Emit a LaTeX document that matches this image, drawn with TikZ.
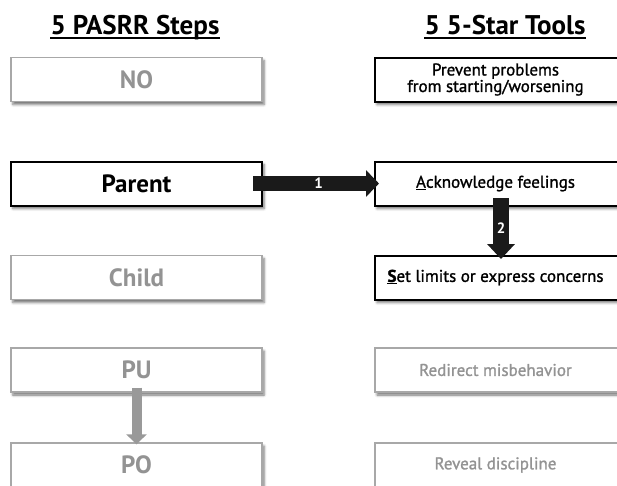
\documentclass[tikz,border=0pt]{standalone}
\usepackage{fontspec}
\setmainfont{PT Sans}
\usetikzlibrary{arrows.meta,shadows.blur}

\definecolor{dimtext}{HTML}{939393}
\definecolor{dimline}{HTML}{A8A8A8}
\definecolor{arrowfill}{HTML}{1A1A1A}
\definecolor{dimarrow}{HTML}{999999}

\begin{document}
\begin{tikzpicture}[x=1pt,y=-1pt,
  box/.style={fill=white, minimum width=251pt, minimum height=44pt, inner sep=0pt,
    blur shadow={shadow xshift=2pt, shadow yshift=-3pt, shadow blur radius=2.5pt, shadow opacity=55}},
  active/.style={box, draw=black, line width=2pt, text=black},
  idle/.style={box, draw=dimline, line width=1.4pt, text=dimtext},
  stepfont/.style={font=\fontsize{25}{30}\selectfont\bfseries},
  tooltext/.style={font=\fontsize{17}{16.5}\selectfont\addfontfeatures{FakeBold=1.2},
    align=center, xshift=-5pt, inner sep=0pt},
  heading/.style={font=\fontsize{27}{32}\selectfont\bfseries, anchor=base, inner sep=0pt},
  rule/.style={line width=1.4pt},
  blockarrow/.style={draw=arrowfill, line width=15pt, -{Triangle[length=13pt,width=26pt]}},
  dimblockarrow/.style={draw=dimarrow, line width=10pt, -{Triangle[length=10pt,width=20pt]}},
  numlabel/.style={text=white, font=\fontsize{15}{18}\selectfont\bfseries, inner sep=0pt}
]
\useasboundingbox (0,0) rectangle (617,485);
\clip (0,0) rectangle (617,485);

% column headings
\node[heading] (hsteps) at (135,34) {5 PASRR Steps};
\node[heading] (htools) at (505,34) {5 5-Star Tools};
\draw[rule] ([yshift=-4pt]hsteps.base west) -- ([yshift=-4pt]hsteps.base east);
\draw[rule] ([yshift=-4pt]htools.base west) -- ([yshift=-4pt]htools.base east);

% left column: steps
\node[idle, stepfont]   (no)     at (136.5,79.5)  {NO};
\node[active, stepfont] (parent) at (136.5,183.5) {Parent};
\node[idle, stepfont]   (child)  at (136.5,277.5) {Child};
\node[idle, stepfont]   (pu)     at (136.5,370)   {PU};
\node[idle, stepfont]   (po)     at (136.5,465)   {PO};

% right column: tools (the boxes run on past the right edge, text sits a bit left of centre)
\node[active, label={[tooltext, text=black]center:Prevent problems\\from starting/worsening}]
  (prevent) at (500.5,79.5) {};
\node[active, label={[tooltext, text=black]center:\underline{A}cknowledge feelings}]
  (ack) at (500.5,183.5) {};
\node[active, label={[tooltext, text=black]center:\textbf{\underline{S}}et limits or express concerns}]
  (set) at (500.5,277.5) {};
\node[idle, label={[tooltext, text=dimtext]center:Redirect misbehavior}]
  (redirect) at (500.5,370) {};
\node[idle, label={[tooltext, text=dimtext]center:Reveal discipline}]
  (reveal) at (500.5,465) {};

% connectors
\draw[blockarrow] ([xshift=-10pt]parent.east) -- ([xshift=5pt]ack.west)
  node[numlabel, pos=0.52] {1};
\draw[blockarrow, line width=16pt, -{Triangle[length=15pt,width=27pt]}]
  ([xshift=0.5pt,yshift=8.5pt]ack.south) -- ([xshift=0.5pt,yshift=-4.5pt]set.north)
  node[numlabel, pos=0.5] {2};
\draw[dimblockarrow] ([yshift=5pt]pu.south) -- ([yshift=-2pt]po.north);
\end{tikzpicture}
\end{document}
